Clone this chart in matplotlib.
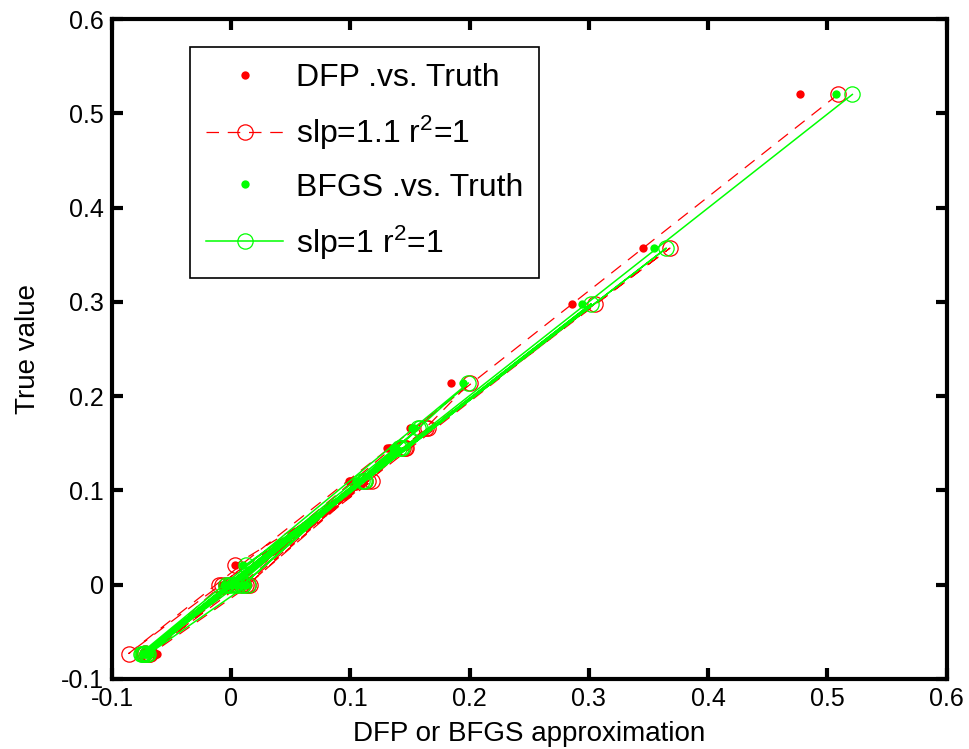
import numpy as np
import matplotlib.pyplot as plt

plt.rcParams['font.family'] = ['Liberation Sans', 'DejaVu Sans']
plt.rcParams['mathtext.fontset'] = 'custom'
plt.rcParams['mathtext.rm'] = 'Liberation Sans'
plt.rcParams['mathtext.it'] = 'Liberation Sans'

# true parameter values (shared y for both methods), in run order
truth = [0.520, -0.073, 0.357, 0.000, 0.298, -0.073, 0.214, 0.166,
         0.000, 0.145, -0.072, 0.110, 0.021, 0.000, -0.074, 0.145,
         0.000, 0.110, -0.073, 0.166, 0.000, -0.073, 0.145, 0.000,
         0.000, -0.074, 0.110, 0.000]

# DFP approximation and its regression line points
dfp_est = [0.477, -0.065, 0.345, -0.008, 0.286, -0.063, 0.184, 0.150,
           0.012, 0.132, -0.066, 0.100, 0.003, 0.014, -0.062, 0.133,
           -0.004, 0.101, -0.064, 0.151, 0.006, -0.063, 0.131, 0.010,
           -0.006, -0.065, 0.099, 0.002]
dfp_fit = [0.509, -0.086, 0.368, -0.004, 0.305, -0.070, 0.200, 0.163,
           0.014, 0.147, -0.072, 0.118, 0.003, 0.016, -0.068, 0.146,
           -0.010, 0.115, -0.071, 0.165, 0.008, -0.069, 0.144, 0.012,
           -0.008, -0.073, 0.112, 0.004]

# BFGS approximation and its regression line points
bfgs_est = [0.507, -0.072, 0.355, -0.005, 0.294, -0.074, 0.194, 0.152,
            0.010, 0.137, -0.070, 0.106, 0.010, 0.012, -0.068, 0.138,
            -0.006, 0.107, -0.071, 0.153, 0.004, -0.072, 0.136, 0.008,
            -0.003, -0.069, 0.105, 0.001]
bfgs_fit = [0.521, -0.075, 0.365, 0.000, 0.302, -0.076, 0.199, 0.157,
            0.010, 0.142, -0.072, 0.112, 0.012, 0.014, -0.070, 0.143,
            -0.004, 0.111, -0.074, 0.158, 0.006, -0.073, 0.141, 0.010,
            -0.002, -0.071, 0.110, 0.003]

fig = plt.figure(figsize=(9.69, 7.49), dpi=100)
ax = fig.add_axes([0.1156, 0.0935, 0.8612, 0.8811])

ax.plot(dfp_est, truth, 'o', color=(1, 0, 0), markersize=6, markeredgewidth=0,
        label='DFP .vs. Truth')
ax.plot(dfp_fit, truth, '--o', color=(1, 0, 0), linewidth=0.9, markersize=11,
        markerfacecolor='none', markeredgewidth=0.9, dashes=(10, 7),
        label='slp=1.1 r$^{2}$=1')
ax.plot(bfgs_est, truth, 'o', color=(0, 1, 0), markersize=6, markeredgewidth=0,
        label='BFGS .vs. Truth')
ax.plot(bfgs_fit, truth, '-o', color=(0, 1, 0), linewidth=1.1, markersize=11,
        markerfacecolor='none', markeredgewidth=0.9,
        label='slp=1 r$^{2}$=1')

ax.set_xlim(-0.1, 0.6)
ax.set_ylim(-0.1, 0.6)
ticks = np.arange(-0.1, 0.61, 0.1)
ax.set_xticks(ticks)
ax.set_yticks(ticks)
ax.set_xticklabels(['-0.1', '0', '0.1', '0.2', '0.3', '0.4', '0.5', '0.6'])
ax.set_yticklabels(['-0.1', '0', '0.1', '0.2', '0.3', '0.4', '0.5', '0.6'])
ax.tick_params(direction='in', length=8, width=3, labelsize=18,
               top=True, right=True, pad=6)
for sp in ax.spines.values():
    sp.set_linewidth(3)

ax.set_xlabel('DFP or BFGS approximation', fontsize=20, labelpad=7)
ax.set_ylabel('True value', fontsize=20, labelpad=14)

leg = ax.legend(loc='upper left', bbox_to_anchor=(0.094, 0.958), fontsize=23,
                numpoints=1, handlelength=2.4, handletextpad=0.4,
                labelspacing=0.65, borderpad=0.5, borderaxespad=0,
                fancybox=False, framealpha=1, edgecolor='black')
leg.get_frame().set_linewidth(1.2)

fig.savefig('out.png', dpi=100)
